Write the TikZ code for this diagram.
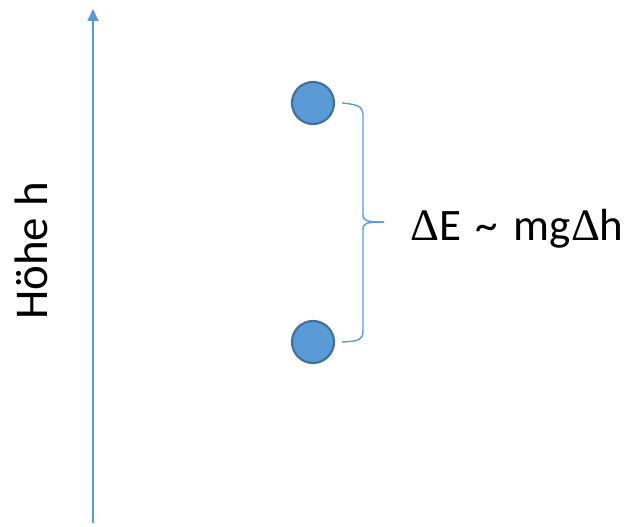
\documentclass[tikz,border=0pt]{standalone}
\usepackage{fontspec}
\setmainfont{Carlito}
\newfontfamily\deltafont{Liberation Serif}
\definecolor{ballblue}{RGB}{91, 155, 213}
\definecolor{ballline}{RGB}{65, 113, 156}
\usepackage{tikz}
\usetikzlibrary{arrows.meta}

\begin{document}
\begin{tikzpicture}[
  x=1pt, y=-1pt,
  ball/.style={circle, fill=ballblue, draw=ballline, line width=2.2pt,
               minimum size=42pt, inner sep=0pt},
  axis/.style={-{Triangle[length=12pt,width=11pt]}, color=ballblue, line width=1.8pt},
  brace/.style={color=ballblue, line width=1.4pt},
  lbl/.style={font=\fontsize{45}{50}\selectfont, inner sep=0pt},
]
\useasboundingbox (0,0) rectangle (630,527);

% Height axis
\coordinate (axisBot) at (93,523);
\coordinate (axisTop) at (93,9);
\draw[axis] (axisBot) -- (axisTop);
\node[lbl, font=\fontsize{47}{50}\selectfont, rotate=90, anchor=base]
  (hoehe) at (47,251) {Höhe h};

% Balls
\node[ball] (ballTop) at (313,103) {};
\node[ball] (ballBot) at (313,342) {};

% Brace
\coordinate (bTop) at ([xshift=7pt]ballTop.east);
\coordinate (bBot) at ([xshift=7pt]ballBot.east);
\coordinate (bTip) at (384,222);
\draw[brace] (bTop) .. controls (363,105) and (363,108) .. (363,118)
  -- (363,214) .. controls (363,221) and (366,222) .. (bTip);
\draw[brace] (bTip) .. controls (366,222) and (363,223) .. (363,230)
  -- (363,330) .. controls (363,340) and (360,341) .. (bBot);

% Energy label
\node[lbl, anchor=base west] (energy) at (410,240)
  {{\deltafont Δ}E\hspace{4pt} \~{}\hspace{6pt} mg{\deltafont Δ}h};
\end{tikzpicture}
\end{document}
